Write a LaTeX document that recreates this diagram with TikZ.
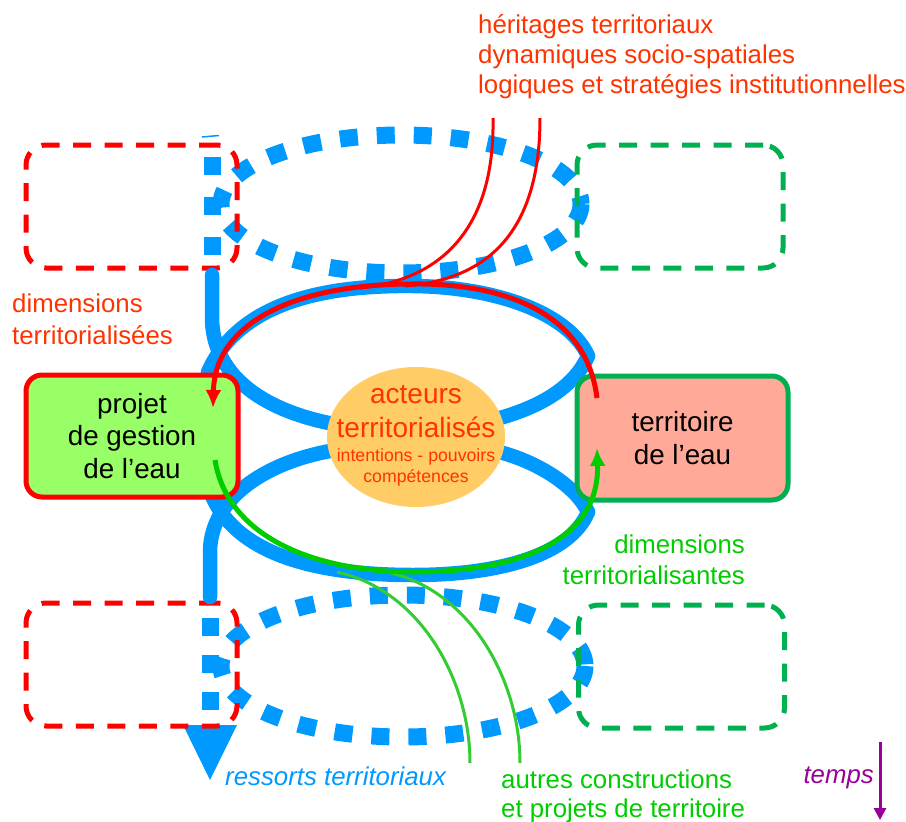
\documentclass[tikz,border=0pt]{standalone}
\usepackage{fontspec}
\setmainfont{Liberation Sans}
\usetikzlibrary{arrows.meta,shapes.geometric}
\definecolor{bl}{HTML}{0099FF}
\definecolor{rd}{HTML}{FF0000}
\definecolor{tred}{HTML}{FF3300}
\definecolor{gr}{HTML}{00B050}
\definecolor{tgr}{HTML}{00CC00}
\definecolor{lgr}{HTML}{33CC33}
\definecolor{pur}{HTML}{990099}
\definecolor{pfill}{HTML}{99FF66}
\definecolor{tfill}{HTML}{FFAA99}
\definecolor{efill}{HTML}{FFCC66}
\tikzset{
  blueline/.style={draw=bl, line width=14.5pt, line cap=round},
  bluedot/.style={draw=bl, line width=17pt, dash pattern=on 18pt off 19pt},
  reddash/.style={draw=rd, line width=5pt, dash pattern=on 18pt off 13.5pt, rounded corners=20pt, minimum width=211pt, minimum height=123pt, inner sep=0pt},
  greendash/.style={draw=gr, line width=5pt, dash pattern=on 18pt off 13.5pt, rounded corners=20pt, minimum width=206pt, minimum height=123pt, inner sep=0pt},
  txt/.style={inner sep=0pt, font=\fontsize{25.8}{31}\selectfont},
  itxt/.style={inner sep=0pt, font=\fontsize{25.8}{31}\selectfont\itshape},
  boxtxt/.style={line width=5pt, rounded corners=16pt, align=center, inner sep=0pt, font=\fontsize{27.8}{32.8}\selectfont},
  thinred/.style={draw=rd, line width=3pt},
  thingreen/.style={draw=lgr, line width=3pt},
}
\begin{document}
\begin{tikzpicture}[x=1pt,y=-1pt]
\useasboundingbox (0,0) rectangle (906,822);

% coordinates
\coordinate (vt0) at (212,275);
\coordinate (vt1) at (212,320);
\coordinate (vb0) at (210,597);
\coordinate (vb1) at (210,550);
\coordinate (rjoin) at (588,356);
\coordinate (rjoinb) at (588,512);

% blue dotted ellipses and vertical dotted lines
\draw[bluedot] (401,204) ellipse [x radius=180, y radius=69];
\draw[bluedot] (403,666) ellipse [x radius=182, y radius=71];
\draw[bluedot, dash pattern=on 18pt off 22pt] (212,157) -- (212,262);
\draw[bluedot] (210,618) -- (210,725);
\draw[bl, line width=1.5pt] (202,137) -- (219,135.5);
\fill[bl] (183,725) -- (237,725) -- (210,780) -- cycle;

% dashed frames
\node[reddash] (tl) at (131.5,206.5) {};
\node[greendash] (tr) at (680,206.5) {};
\node[reddash] (bl) at (131.5,664.5) {};
\node[greendash] (br) at (681.5,666.5) {};

% acteurs ellipse (position reference)
\node[ellipse, minimum width=178pt, minimum height=140pt, inner sep=0pt] (act) at (416,437) {};

% blue solid loops
\draw[blueline] (vt0) -- (vt1) .. controls (214,380) and (270,412) .. (334,424);
\draw[blueline] (208,372) .. controls (240,300) and (330,285) .. (413,286) .. controls (500,287) and (570,315) .. (rjoin);
\draw[blueline] (500,418) .. controls (545,405) and (575,385) .. (rjoin);
\draw[blueline] (vb0) -- (vb1) .. controls (212,495) and (270,462) .. (330,451);
\draw[blueline] (212,496) .. controls (240,560) and (330,575) .. (413,575) .. controls (500,575) and (570,555) .. (rjoinb);
\draw[blueline] (503,453) .. controls (545,465) and (578,490) .. (rjoinb);

% ellipse drawn on top of line ends
\node[ellipse, fill=efill, minimum width=178pt, minimum height=140pt, inner sep=0pt] (act2) at (act) {};
\node[inner sep=0pt, tred, anchor=base, font=\fontsize{28}{31}\selectfont] (ac1) at (416,403) {acteurs};
\node[inner sep=0pt, tred, anchor=base, font=\fontsize{28}{31}\selectfont] (ac2) at (416,437) {territorialisés};
\node[inner sep=0pt, tred, anchor=base, font=\fontsize{17.7}{21}\selectfont] (ac3) at (416,461) {intentions - pouvoirs};
\node[inner sep=0pt, tred, anchor=base, font=\fontsize{17.7}{21}\selectfont] (ac4) at (416,482) {compétences};

% main boxes
\node[boxtxt, draw=rd, fill=pfill, minimum width=212pt, minimum height=122pt] (proj) at (132,436) {projet\\de gestion\\de l’eau};
\node[boxtxt, draw=gr, fill=tfill, minimum width=211pt, minimum height=124pt] (terr) at (682.5,438) {territoire\\de l’eau};

% thin red lines
\draw[thinred] (493,118) .. controls (495,230) and (440,280) .. (360,288);
\draw[thinred] (540,118) .. controls (540,240) and (480,280) .. (405,286);
% thin green lines
\draw[thingreen] (470,763) .. controls (470,680) and (420,590) .. (337,572);
\draw[thingreen] (520,763) .. controls (520,680) and (470,590) .. (387,572);

% red and green arcs
\draw[rd, line width=5pt, -{Latex[length=18pt,width=16pt]}] (597,398) .. controls (585,300) and (480,283) .. (412,284) .. controls (300,284) and (215,320) .. (213,408);
\draw[tgr, line width=5pt, -{Latex[length=18pt,width=16pt]}] (215,460) .. controls (228,540) and (320,572) .. (413,572) .. controls (520,572) and (600,540) .. (597,448);

% texts
\node[txt, tred, anchor=base west] (h1) at (478,33) {héritages territoriaux};
\node[txt, tred, anchor=base west] (h2) at (478,63) {dynamiques socio-spatiales};
\node[txt, tred, anchor=base west] (h3) at (478,93) {logiques et stratégies institutionnelles};
\node[txt, tred, anchor=base west] (dl1) at (12,312) {dimensions};
\node[txt, tred, anchor=base west] (dl2) at (12,344) {territorialisées};
\node[txt, tgr, anchor=base east] (dr1) at (745,553) {dimensions};
\node[txt, tgr, anchor=base east] (dr2) at (745,584) {territorialisantes};
\node[txt, tgr, anchor=base west] (au1) at (501,788) {autres constructions};
\node[txt, tgr, anchor=base west] (au2) at (501,817) {et projets de territoire};
\node[itxt, bl, anchor=base west] (rs) at (225,785) {ressorts territoriaux};
\node[itxt, pur, anchor=base east] (tp) at (874,783) {temps};
\coordinate (t0) at (880,742);
\coordinate (t1) at (880,820);
\draw[pur, line width=3pt, -{Triangle[length=12pt,width=12pt]}] (t0) -- (t1);
\end{tikzpicture}
\end{document}
